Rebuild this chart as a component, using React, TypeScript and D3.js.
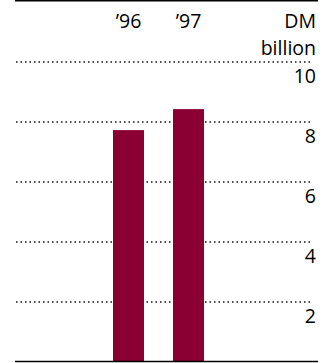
import React from "react";
import * as d3 from "d3";

const categories = ["’96", "’97"];
const values = [7.73, 8.43];
const tickValues = [2, 4, 6, 8, 10];
const unitLines = ["DM", "billion"];

export default function App() {
  const W = 332, H = 363;
  const y = d3.scaleLinear().domain([0, 10]).range([362, 62]);
  const x = d3.scaleBand().domain(categories).range([113, 204]).paddingInner(29 / 60).paddingOuter(0);
  const font = "'Open Sans', sans-serif";
  const fs = 19.5;
  return (
    <svg width={W} height={H} style={{ position: "absolute", left: 0, top: 0 }}>
      <line x1={15} x2={318} y1={0.75} y2={0.75} stroke="#000" strokeWidth={1.5} />
      {tickValues.map((t) => (
        <g key={t}>
          <line x1={16} x2={313} y1={y(t)} y2={y(t)} stroke="#111" strokeWidth={1.5} strokeDasharray="1.5,3" />
          <text x={316} y={y(t) + 21} textAnchor="end" fontFamily={font} fontSize={fs} fill="#000">{t}</text>
        </g>
      ))}
      {categories.map((c, i) => (
        <g key={c}>
          <rect x={x(c)} width={x.bandwidth()} y={y(values[i])} height={y(0) - y(values[i])} fill="#8b0033" />
          <text x={(x(c) as number) + x.bandwidth() / 2} y={28} textAnchor="middle" fontFamily={font} fontSize={fs} fill="#000">{c}</text>
        </g>
      ))}
      {unitLines.map((u, i) => (
        <text key={u} x={316} y={28 + i * 27} textAnchor="end" fontFamily={font} fontSize={fs} fill="#000">{u}</text>
      ))}
      <line x1={15} x2={318} y1={361.5} y2={361.5} stroke="#000" strokeWidth={1.5} />
    </svg>
  );
}
